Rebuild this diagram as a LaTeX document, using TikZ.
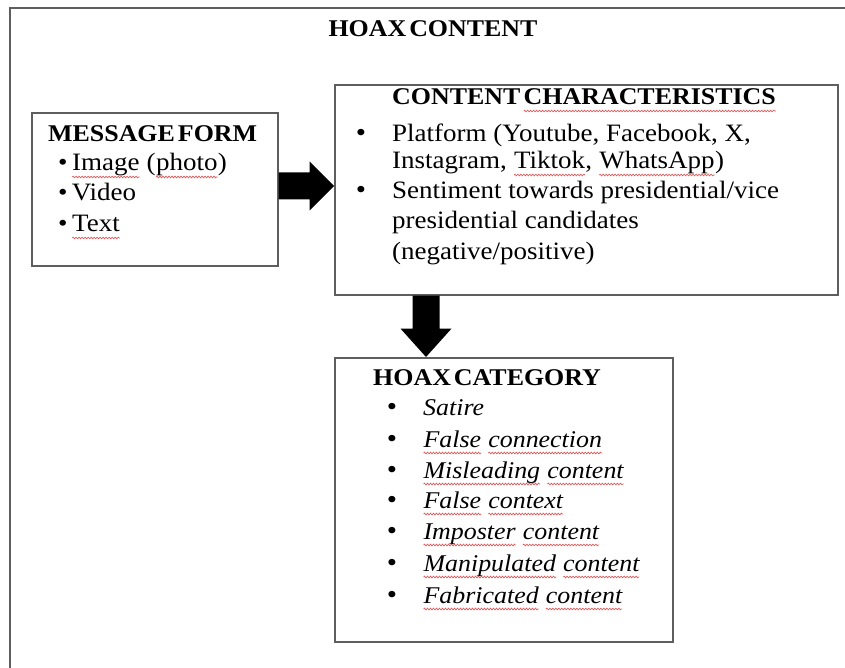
\documentclass[tikz,border=0pt]{standalone}
\usepackage{fontspec}
\setmainfont[FakeStretch=1.08]{Liberation Serif}
\usetikzlibrary{calc,decorations.pathmorphing}
\definecolor{framecol}{HTML}{5E5E5E}
\definecolor{sqcol}{HTML}{E05A5A}
\newcommand{\sq}[1]{\tikz[baseline=(sqw.base)]{\node[inner sep=0pt,outer sep=0pt] (sqw) {#1};\draw[sqcol,line width=0.7pt,decorate,decoration={snake,amplitude=0.8pt,segment length=3pt}] ([yshift=-6pt]sqw.base west) -- ([yshift=-6pt]sqw.base east);}}
\newcommand{\tsp}{\hspace{3pt}}
\tikzset{
  boxframe/.style={draw=framecol,line width=1.6pt,anchor=north west,inner sep=0pt},
  txt/.style={anchor=base west,inner sep=0pt,font=\fontsize{25}{30}\selectfont},
  hdr/.style={anchor=base west,inner sep=0pt,font=\fontsize{24}{30}\selectfont\bfseries},
  bul/.style={anchor=base,inner sep=0pt,font=\fontsize{27}{30}\selectfont},
  itm/.style={txt,font=\fontsize{24}{30}\selectfont\itshape},
  blockfill/.style={fill=black}
}
\begin{document}
\begin{tikzpicture}[x=1pt,y=-1pt]
\useasboundingbox (0,0) rectangle (845,668);
\fill[white] (0,0) rectangle (845,668);
% outer frame
\draw[framecol,line width=2pt] (10,668) -- (10,8) -- (846,8);
\node[hdr,anchor=base] (title) at (433,37) {HOAX\tsp CONTENT};
% boxes
\node[boxframe,minimum width=246pt,minimum height=153pt] (mf) at (31,112) {};
\node[boxframe,minimum width=503pt,minimum height=210pt] (cc) at (334,84) {};
\node[boxframe,minimum width=338pt,minimum height=284pt] (hc) at (334,357) {};
% message form
\node[hdr] (mfh) at (48,142) {MESSAGE\tsp FORM};
\node[txt] (mf1) at (58,171) {\textbullet\,\sq{Image} (\sq{photo})};
\node[txt] (mf2) at (58,201) {\textbullet\,Video};
\node[txt] (mf3) at (58,232) {\textbullet\,\sq{Text}};
% content characteristics
\node[hdr] (cch) at (392,105) {CONTENT\tsp\sq{CHARACTERISTICS}};
\node[bul] (ccb1) at (361,142) {\textbullet};
\node[txt] (cc1) at (392,142) {Platform (Youtube, Facebook, X,};
\node[txt] (cc2) at (392,169) {Instagram, \sq{Tiktok}, \sq{WhatsApp})};
\node[bul] (ccb2) at (361,199) {\textbullet};
\node[txt] (cc3) at (392,199) {Sentiment towards presidential/vice};
\node[txt] (cc4) at (392,229) {presidential candidates};
\node[txt] (cc5) at (392,259) {(negative/positive)};
% hoax category
\node[hdr] (hch) at (373,385) {HOAX\tsp CATEGORY};
\foreach \t/\yy [count=\i] in {{Satire}/415,{\sq{False} \sq{connection}}/447,{\sq{Misleading} \sq{content}}/478,{\sq{False} \sq{context}}/508,{\sq{Imposter} \sq{content}}/539,{\sq{Manipulated} \sq{content}}/571,{\sq{Fabricated} \sq{content}}/603}{
  \node[bul] (hb\i) at (392,\yy) {\textbullet};
  \node[itm] (hi\i) at (423,\yy) {\t};
}
% block arrows
\coordinate (r1) at ($(mf.north east)+(0,74)$);
\coordinate (r2) at (r1 -| cc.west);
\fill[blockfill] (r1) ++(0,-13.5) -- ++(31,0) -- ++(0,-11) -- (r2) -- ($(r1)+(31,24.5)$) -- ++(0,-11) -- ++(-31,0) -- cycle;
\coordinate (d1) at ($(cc.south west)+(92,0)$);
\coordinate (d2) at (d1 |- hc.north);
\fill[blockfill] (d1) ++(-13.5,0) -- ++(0,33) -- ++(-12,0) -- (d2) -- ($(d1)+(25.5,33)$) -- ++(-12,0) -- ++(0,-33) -- cycle;
\end{tikzpicture}
\end{document}
